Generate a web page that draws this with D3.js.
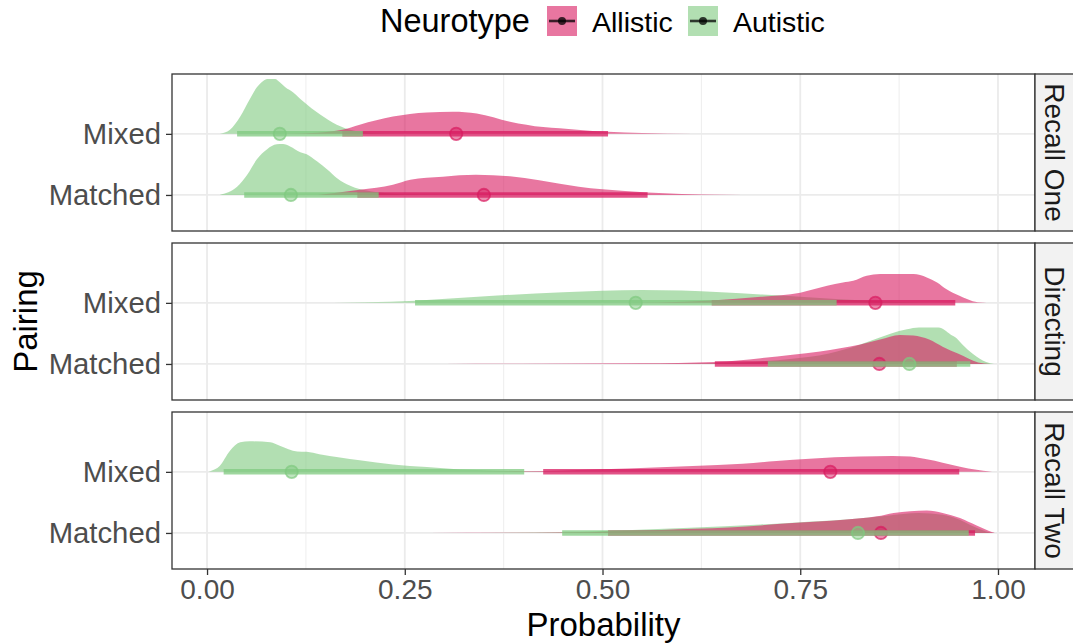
<!DOCTYPE html>
<html>
<head>
<meta charset="utf-8">
<script src="https://cdn.jsdelivr.net/npm/d3@7"></script>
<style>
  body { margin: 0; background: #fff; }
  text { font-family: "Liberation Sans", Arial, Helvetica, sans-serif; }
</style>
</head>
<body>
<svg id="chart" width="1073" height="644"></svg>
<script>
// ---- data -----------------------------------------------------------------
const facets = ["Recall One", "Directing", "Recall Two"];
const pairings = ["Mixed", "Matched"];
const neurotypes = ["Allistic", "Autistic"];
const neurotypeColors = ["#d81b60", "#7fc97f"];

const xTicks = [0, 0.25, 0.5, 0.75, 1];
const xTickLabels = ["0.00", "0.25", "0.50", "0.75", "1.00"];
const xMinorTicks = [0.125, 0.375, 0.625, 0.875];

// posterior medians, [facet][pairing]
const allisticMedian = [[0.315, 0.350], [0.845, 0.850], [0.788, 0.852]];
const autisticMedian = [[0.092, 0.106], [0.542, 0.888], [0.107, 0.823]];

// credible intervals [lower, upper], [facet][pairing]
const allisticInterval = [
  [[0.171, 0.507], [0.190, 0.557]],
  [[0.638, 0.946], [0.642, 0.948]],
  [[0.425, 0.951], [0.507, 0.971]]
];
const autisticInterval = [
  [[0.038, 0.197], [0.047, 0.217]],
  [[0.263, 0.796], [0.709, 0.965]],
  [[0.021, 0.401], [0.449, 0.963]]
];

// posterior densities: [probability, density]
const densAllisticRecallOneMixed = [[0.10,0],[0.14,1.2],[0.171,4],[0.193,9],[0.235,17],[0.278,21],[0.311,21.7],[0.341,20],[0.383,12],[0.425,6.7],[0.446,5.5],[0.468,4],[0.507,2],[0.55,0.8],[0.614,0.2],[0.66,0]];
const densAutisticRecallOneMixed = [[0.016,0],[0.029,4],[0.042,17],[0.054,34],[0.063,45.7],[0.071,52],[0.076,54],[0.086,54],[0.092,50.7],[0.099,45.7],[0.109,40.7],[0.121,32.3],[0.143,19],[0.164,9],[0.185,3.3],[0.21,0.8],[0.24,0.2],[0.27,0]];
const densAllisticRecallOneMatched = [[0.14,0],[0.193,5],[0.235,10],[0.257,15],[0.298,18],[0.34,19.8],[0.383,18.3],[0.42,14.5],[0.446,11],[0.47,8],[0.5,5.5],[0.557,2.3],[0.6,1],[0.65,0.3],[0.72,0]];
const densAutisticRecallOneMatched = [[0.016,0],[0.038,8],[0.051,20],[0.063,35],[0.076,45],[0.088,49.7],[0.096,50],[0.105,47.7],[0.118,42],[0.126,40],[0.139,33],[0.152,25],[0.164,16.7],[0.181,9],[0.202,4.3],[0.228,1.7],[0.26,0.4],[0.3,0]];

const densAllisticDirectingMixed = [[0.5,0],[0.57,0.4],[0.638,2.3],[0.7,6],[0.75,10],[0.784,16.7],[0.804,20],[0.817,21.7],[0.834,26.7],[0.851,28.3],[0.893,28.3],[0.91,25],[0.923,20],[0.935,13.3],[0.952,6.7],[0.968,1.7],[0.981,0.3],[0.99,0]];
const densAutisticDirectingMixed = [[0.12,0],[0.2,0.6],[0.263,2.2],[0.362,7],[0.45,10.5],[0.5,12],[0.55,12.7],[0.6,12.2],[0.65,10.5],[0.7,8.3],[0.75,6],[0.8,3.5],[0.85,1.5],[0.9,0.3],[0.93,0]];
const densAllisticDirectingMatched = [[0.3,0],[0.4,0.2],[0.55,0.7],[0.642,2],[0.7,5.7],[0.74,9],[0.775,12.3],[0.826,19],[0.851,24],[0.876,28.5],[0.893,28],[0.913,24],[0.93,17],[0.95,10],[0.975,1.5],[0.99,0]];
const densAutisticDirectingMatched = [[0.45,0],[0.6,0.3],[0.66,1],[0.7,2.5],[0.74,5],[0.785,10],[0.826,19],[0.847,25],[0.865,30],[0.885,34],[0.9,35.7],[0.925,35.7],[0.94,29],[0.948,25],[0.955,19],[0.968,10],[0.985,2],[0.995,0]];

const densAllisticRecallTwoMixed = [[0.3,0],[0.4,0.6],[0.447,1.3],[0.532,3.3],[0.614,5.7],[0.677,8],[0.72,10.7],[0.762,13],[0.825,15],[0.867,15.7],[0.889,15],[0.91,12.3],[0.93,9],[0.952,5],[0.973,2],[0.99,0.3],[0.995,0]];
const densAutisticRecallTwoMixed = [[0,0],[0.004,0.7],[0.016,5.7],[0.029,20.7],[0.042,29],[0.054,30],[0.08,29],[0.092,25.7],[0.114,20],[0.126,19.7],[0.142,17.3],[0.168,14],[0.193,11.3],[0.235,7.3],[0.278,4.7],[0.32,2.3],[0.362,1.3],[0.4,0.7],[0.45,0.2],[0.5,0]];
const densAllisticRecallTwoMatched = [[0.28,0],[0.45,0.5],[0.575,3],[0.66,5.3],[0.74,9.7],[0.805,13],[0.847,16.3],[0.868,19.7],[0.889,21.3],[0.91,22],[0.93,19.7],[0.952,14.7],[0.973,7.3],[0.993,0.7],[0.996,0]];
const densAutisticRecallTwoMatched = [[0.3,0],[0.45,0.7],[0.53,2.7],[0.61,5],[0.7,8.3],[0.76,11],[0.82,14],[0.86,17],[0.9,19.5],[0.93,18],[0.95,13.5],[0.97,6],[0.99,0.5],[0.995,0]];

const allisticDensity = [
  [densAllisticRecallOneMixed, densAllisticRecallOneMatched],
  [densAllisticDirectingMixed, densAllisticDirectingMatched],
  [densAllisticRecallTwoMixed, densAllisticRecallTwoMatched]
];
const autisticDensity = [
  [densAutisticRecallOneMixed, densAutisticRecallOneMatched],
  [densAutisticDirectingMixed, densAutisticDirectingMatched],
  [densAutisticRecallTwoMixed, densAutisticRecallTwoMatched]
];

// ---- layout ---------------------------------------------------------------
const svg = d3.select("#chart");
const panelLeft = 172, panelRight = 1035;
const panelTops = [74, 243, 412];
const panelH = 157;
const stripW = 40;

const x = d3.scaleLinear().domain([-0.0443, 1.0468]).range([panelLeft, panelRight]);
// level positions: Matched = 1, Mixed = 2
const yLevel = d3.scaleOrdinal().domain(["Matched", "Mixed"]).range([1, 2]);
const yDomain = [0.41, 2.98];
const unitPx = panelH / (yDomain[1] - yDomain[0]);

const allDens = [...allisticDensity.flat(), ...autisticDensity.flat()].flat().map(d => d[1]);
const thick = d3.scaleLinear().domain([0, d3.max(allDens)]).range([0, 0.9 * unitPx]);

const font = '"Liberation Sans", Arial, Helvetica, sans-serif';

facets.forEach((facet, fi) => {
  const top = panelTops[fi];
  const y = d3.scaleLinear().domain(yDomain).range([top + panelH, top]);
  const g = svg.append("g");

  // grid
  g.selectAll(".minor").data(xMinorTicks).join("line")
    .attr("x1", d => x(d)).attr("x2", d => x(d))
    .attr("y1", top).attr("y2", top + panelH)
    .attr("stroke", "#ebebeb").attr("stroke-width", 0.9);
  g.selectAll(".major").data(xTicks).join("line")
    .attr("x1", d => x(d)).attr("x2", d => x(d))
    .attr("y1", top).attr("y2", top + panelH)
    .attr("stroke", "#ebebeb").attr("stroke-width", 1.8);
  g.selectAll(".hmajor").data(pairings).join("line")
    .attr("x1", panelLeft).attr("x2", panelRight)
    .attr("y1", d => y(yLevel(d))).attr("y2", d => y(yLevel(d)))
    .attr("stroke", "#ebebeb").attr("stroke-width", 1.8);

  // slabs: Autistic underneath, Allistic on top
  const slabOrder = [1, 0];
  slabOrder.forEach(ni => {
    const densSet = ni === 0 ? allisticDensity[fi] : autisticDensity[fi];
    pairings.forEach((pair, pi) => {
      const base = y(yLevel(pair));
      const area = d3.area()
        .x(d => x(d[0]))
        .y0(base)
        .y1(d => base - thick(d[1]))
        .curve(d3.curveMonotoneX);
      g.append("path")
        .attr("d", area(densSet[pi]))
        .attr("fill", neurotypeColors[ni])
        .attr("fill-opacity", 0.6);
    });
  });

  // intervals and medians: Allistic first, Autistic on top
  [0, 1].forEach(ni => {
    const intervals = ni === 0 ? allisticInterval[fi] : autisticInterval[fi];
    const medians = ni === 0 ? allisticMedian[fi] : autisticMedian[fi];
    pairings.forEach((pair, pi) => {
      const base = y(yLevel(pair));
      g.append("line")
        .attr("x1", x(intervals[pi][0])).attr("x2", x(intervals[pi][1]))
        .attr("y1", base).attr("y2", base)
        .attr("stroke", neurotypeColors[ni])
        .attr("stroke-opacity", 0.75)
        .attr("stroke-width", 5.5);
    });
    pairings.forEach((pair, pi) => {
      const base = y(yLevel(pair));
      g.append("circle")
        .attr("cx", x(medians[pi])).attr("cy", base).attr("r", 6.2)
        .attr("fill", neurotypeColors[ni]).attr("fill-opacity", 0.5)
        .attr("stroke", neurotypeColors[ni]).attr("stroke-opacity", 0.7)
        .attr("stroke-width", 1.8);
    });
  });

  // panel border
  g.append("rect")
    .attr("x", panelLeft).attr("y", top)
    .attr("width", panelRight - panelLeft).attr("height", panelH)
    .attr("fill", "none").attr("stroke", "#333333").attr("stroke-width", 1.3);

  // strip
  g.append("rect")
    .attr("x", panelRight).attr("y", top)
    .attr("width", stripW).attr("height", panelH)
    .attr("fill", "#f2f2f2").attr("stroke", "#333333").attr("stroke-width", 1.3);
  g.append("text")
    .attr("transform", `translate(${panelRight + stripW / 2},${top + panelH / 2}) rotate(90)`)
    .attr("text-anchor", "middle").attr("dy", "0.35em")
    .attr("font-size", 28).attr("fill", "#1a1a1a")
    .text(facet);

  // y axis
  const yAxis = d3.axisLeft(d3.scaleOrdinal().domain(pairings).range(pairings.map(p => y(yLevel(p)))))
    .tickSize(6).tickPadding(5);
  const ya = g.append("g").attr("transform", `translate(${panelLeft},0)`).call(yAxis);
  ya.select(".domain").remove();
  ya.selectAll(".tick line").attr("stroke", "#333333").attr("stroke-width", 1.3);
  ya.selectAll(".tick text").attr("font-size", 29.3).attr("fill", "#4d4d4d")
    .attr("font-family", font);
});

// x axis under the last panel
const xAxis = d3.axisBottom(x).tickValues(xTicks)
  .tickFormat((d, i) => xTickLabels[i]).tickSize(6).tickPadding(4);
const xa = svg.append("g").attr("transform", `translate(0,${panelTops[2] + panelH})`).call(xAxis);
xa.select(".domain").remove();
xa.selectAll(".tick line").attr("stroke", "#333333").attr("stroke-width", 1.3);
xa.selectAll(".tick text").attr("font-size", 28).attr("fill", "#4d4d4d")
  .attr("font-family", font);

// axis titles
svg.append("text")
  .attr("x", (panelLeft + panelRight) / 2).attr("y", 636)
  .attr("text-anchor", "middle").attr("font-size", 33).attr("fill", "#000")
  .text("Probability");
svg.append("text")
  .attr("transform", `translate(37,${(panelTops[0] + panelTops[2] + panelH) / 2}) rotate(-90)`)
  .attr("text-anchor", "middle").attr("font-size", 33).attr("fill", "#000")
  .text("Pairing");

// legend
const legend = svg.append("g");
legend.append("text").attr("x", 380).attr("y", 32)
  .attr("font-size", 32.5).attr("fill", "#000").text("Neurotype");
const keyX = [547, 688];
const labelX = [592, 733];
neurotypes.forEach((nt, i) => {
  const k = legend.append("g").attr("transform", `translate(${keyX[i]},6)`);
  k.append("rect").attr("width", 30).attr("height", 30)
    .attr("fill", neurotypeColors[i]).attr("fill-opacity", 0.6);
  k.append("line").attr("x1", 2).attr("x2", 28).attr("y1", 15).attr("y2", 15)
    .attr("stroke", "#000").attr("stroke-opacity", 0.75).attr("stroke-width", 2.6);
  k.append("circle").attr("cx", 15).attr("cy", 15).attr("r", 4)
    .attr("fill", "#000").attr("fill-opacity", 0.75);
  legend.append("text").attr("x", labelX[i]).attr("y", 32)
    .attr("font-size", 28.5).attr("fill", "#000").text(nt);
});
</script>
</body>
</html>
